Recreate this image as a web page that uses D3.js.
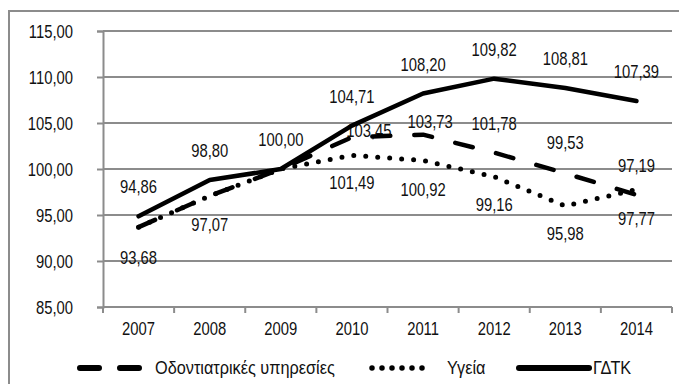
<!DOCTYPE html>
<html>
<head>
<meta charset="utf-8">
<script src="https://cdn.jsdelivr.net/npm/d3@7"></script>
<style>
  html, body { margin: 0; padding: 0; background: #fff; }
  svg { display: block; }
  text { font-family: "Liberation Sans", Arial, sans-serif; fill: #111; }
</style>
</head>
<body>
<svg id="chart" width="679" height="384"></svg>
<script>
// Price indices, 2009 = 100
const years = ["2007", "2008", "2009", "2010", "2011", "2012", "2013", "2014"];
const dental = [93.68, 97.07, 100.00, 103.45, 103.73, 101.78, 99.53, 97.19];
const health = [93.68, 97.07, 100.00, 101.49, 100.92, 99.16, 95.98, 97.77];
const cpi = [94.86, 98.80, 100.00, 104.71, 108.20, 109.82, 108.81, 107.39];
const seriesNames = ["Οδοντιατρικές υπηρεσίες", "Υγεία", "ΓΔΤΚ"];
const yTicks = [85, 90, 95, 100, 105, 110, 115];

// Label placement (offsets from the point, null = no label)
const dentalLabelPos = [null, null, null, [17, -6], [7, -13], [0, -29], [0, -30], [0, -29]];
const healthLabelPos = [[0, 31], [0, 29], null, [0, 28], [0, 29], [0, 28], [0, 28], [0, 29]];
const cpiLabelPos = years.map(() => [0, -29]);

(function draw() {
  const svg = d3.select("#chart");
  const plot = { left: 103, right: 672, top: 31, bottom: 307 };
  const grey = "#8c8c8c";
  const fontSize = 18.5;
  const fmt = v => v.toFixed(2).replace(".", ",");

  // place a text at (x, y) with horizontally condensed glyphs
  function narrow(sel, k = 0.8) {
    sel.each(function () {
      const t = d3.select(this);
      const tx = +t.attr("x") || 0, ty = +t.attr("y") || 0;
      t.attr("x", 0).attr("y", 0)
        .attr("transform", `translate(${tx},${ty}) scale(${k},1)`);
    });
  }

  // outer frame
  svg.append("rect")
    .attr("x", 9).attr("y", 11).attr("width", 720).attr("height", 420)
    .attr("fill", "none").attr("stroke", grey).attr("stroke-width", 2);

  const x = d3.scaleBand().domain(years).range([plot.left, plot.right]).padding(0);
  const y = d3.scaleLinear().domain([85, 115]).range([plot.bottom, plot.top]);
  const cx = d => x(d) + x.bandwidth() / 2;

  // horizontal gridlines
  svg.append("g").selectAll("line").data(yTicks.filter(t => t > 85)).join("line")
    .attr("x1", plot.left).attr("x2", plot.right)
    .attr("y1", d => y(d)).attr("y2", d => y(d))
    .attr("stroke", grey).attr("stroke-width", 2);

  // y axis
  const yAxis = svg.append("g").attr("transform", `translate(${plot.left},0)`)
    .call(d3.axisLeft(y).tickValues(yTicks).tickFormat(fmt).tickSize(6).tickPadding(24));
  yAxis.select(".domain").attr("stroke", grey).attr("stroke-width", 2);
  yAxis.selectAll(".tick line").attr("stroke", grey).attr("stroke-width", 2);
  yAxis.selectAll("text").attr("font-size", fontSize).attr("fill", "#111")
    .attr("font-family", null)
    .attr("dy", null).attr("dominant-baseline", "central").call(narrow);

  // x axis with ticks at category boundaries
  const xAxis = svg.append("g").attr("transform", `translate(0,${plot.bottom})`);
  xAxis.append("line").attr("x1", plot.left).attr("x2", plot.right).attr("y1", 0).attr("y2", 0)
    .attr("stroke", grey).attr("stroke-width", 2);
  const bounds = years.map(d => x(d)).concat([plot.right]);
  xAxis.selectAll("line.tk").data(bounds).join("line").attr("class", "tk")
    .attr("x1", d => d).attr("x2", d => d).attr("y1", 0).attr("y2", 6)
    .attr("stroke", grey).attr("stroke-width", 2);
  xAxis.selectAll("text").data(years).join("text")
    .attr("x", d => cx(d)).attr("y", 22)
    .attr("text-anchor", "middle").attr("dominant-baseline", "central")
    .attr("font-size", fontSize).text(d => d).call(narrow);

  const series = [
    { name: seriesNames[0], values: dental, pos: dentalLabelPos, dash: "18 24", width: 4.5 },
    { name: seriesNames[1], values: health, pos: healthLabelPos, dash: "0 12", width: 5 },
    { name: seriesNames[2], values: cpi, pos: cpiLabelPos, dash: null, width: 4.5 }
  ];

  // data labels (beneath the lines)
  const labels = svg.append("g");
  series.forEach(s => {
    s.values.forEach((v, i) => {
      const p = s.pos[i];
      if (!p) return;
      labels.append("text")
        .attr("x", cx(years[i]) + p[0]).attr("y", y(v) + p[1])
        .attr("text-anchor", "middle").attr("dominant-baseline", "central")
        .attr("font-size", fontSize).text(fmt(v)).call(narrow);
    });
  });

  // lines
  const line = d3.line().x((d, i) => cx(years[i])).y(d => y(d));
  series.forEach(s => {
    svg.append("path").datum(s.values)
      .attr("d", line)
      .attr("fill", "none").attr("stroke", "#000")
      .attr("stroke-width", s.width)
      .attr("stroke-linecap", "round").attr("stroke-linejoin", "round")
      .attr("stroke-dasharray", s.dash);
  });

  // legend
  const legendY = 368;
  const legendItems = [
    { x1: 80, x2: 139, dash: "19 21", width: 6, tx: 155 },
    { x1: 372, x2: 432, dash: "0 10", width: 5.5, tx: 447 },
    { x1: 519, x2: 589, dash: null, width: 6, tx: 593 }
  ];
  const legend = svg.append("g");
  legendItems.forEach((d, i) => {
    legend.append("line")
      .attr("x1", d.x1).attr("x2", d.x2).attr("y1", legendY).attr("y2", legendY)
      .attr("stroke", "#000").attr("stroke-width", d.width)
      .attr("stroke-linecap", "round").attr("stroke-dasharray", d.dash);
    legend.append("text")
      .attr("x", d.tx).attr("y", legendY)
      .attr("dominant-baseline", "central").attr("font-size", fontSize)
      .text(seriesNames[i]).call(narrow, 0.88);
  });
})();
</script>
</body>
</html>
